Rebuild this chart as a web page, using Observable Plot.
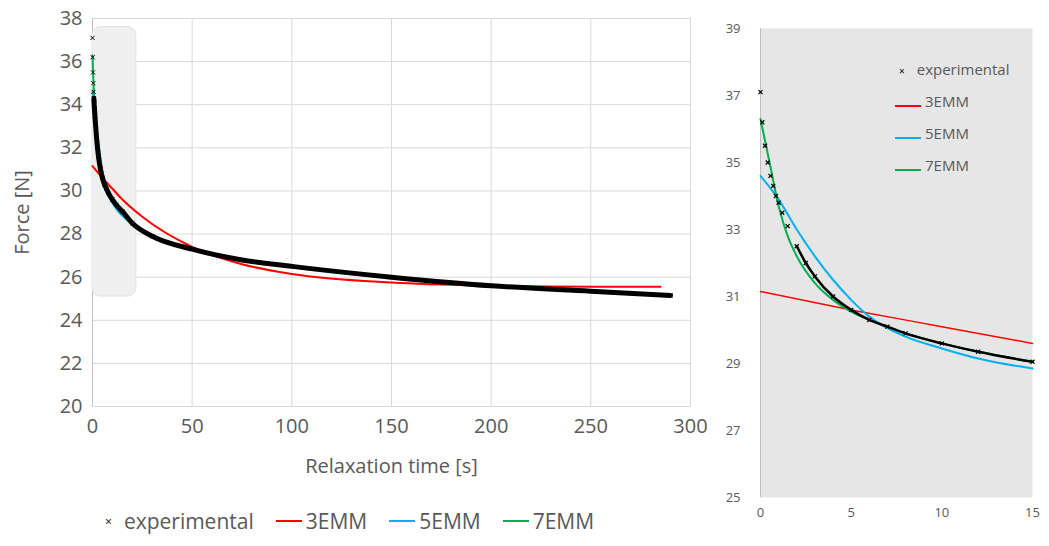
<!DOCTYPE html>
<html><head><meta charset="utf-8">
<script src="https://cdn.jsdelivr.net/npm/d3@7"></script>
<script src="https://cdn.jsdelivr.net/npm/@observablehq/plot@0.6"></script>
<style>
body{margin:0;width:1049px;height:546px;background:#fff;font-family:"Open Sans","Liberation Sans",Arial,sans-serif;position:relative;overflow:hidden}
#l{position:absolute;left:0;top:0}
#r{position:absolute;left:720px;top:0}
.leg{position:absolute;color:#595959;display:flex;align-items:center}
.sw{display:inline-block;width:26px;height:2px;margin-right:4px}
</style></head><body>
<div id="l"></div><div id="r"></div>
<div class="leg" style="left:105px;top:507px;font-size:21px;gap:0">
<span style="font-size:12px;margin-right:12px;color:#000">×</span>experimental
<span class="sw" style="background:#ff0000;margin-left:22px"></span>3EMM
<span class="sw" style="background:#00b0f0;margin-left:22px"></span>5EMM
<span class="sw" style="background:#00b050;margin-left:22px"></span>7EMM
</div>
<div class="leg" style="left:895px;top:59px;font-size:15px;flex-direction:column;align-items:flex-start;gap:12px">
<div><span style="font-size:10px;margin:0 12px 0 4px;color:#000">×</span>experimental</div>
<div><span class="sw" style="background:#ff0000"></span>3EMM</div>
<div><span class="sw" style="background:#00b0f0"></span>5EMM</div>
<div><span class="sw" style="background:#00b050"></span>7EMM</div>
</div>
<script>
const expT=[0,0.1,0.25,0.4,0.55,0.7,0.85,1,1.2,1.5,2,2.5,3,4,5,6,7,8,10,12,15,20,30,50,75,100,150,200,250,290];
const expF=[37.1,36.2,35.5,35.0,34.6,34.3,34.0,33.8,33.5,33.1,32.5,32.0,31.6,31.0,30.6,30.3,30.1,29.9,29.6,29.35,29.05,28.5,27.9,27.3,26.8,26.5,26.0,25.6,25.35,25.15];
const m3T=[0,5,10,15,25,50,75,100,150,200,250,285];
const m3F=[31.15,30.6,30.1,29.6,28.8,27.4,26.6,26.15,25.75,25.6,25.55,25.55];
const m5T=[0,1,2,3,4,5,6,8,10,12,15,20,50,100,150,200,250,285];
const m5F=[34.6,33.9,33.0,32.2,31.5,30.9,30.4,29.8,29.45,29.15,28.85,28.45,27.3,26.5,26.0,25.6,25.35,25.2];
const m7T=[0,0.5,1,1.5,2,3,4,5,6,8,10,15,20,50,100,200,285];
const m7F=[36.3,35.0,33.7,32.8,32.2,31.4,30.9,30.55,30.3,29.9,29.6,29.05,28.5,27.3,26.5,25.6,25.2];
const zoomBox={x1:0,x2:22,y1:25.1,y2:37.6};
const z=(t,f)=>t.map((v,i)=>({t:v,f:f[i]}));
const E=z(expT,expF),A=z(m3T,m3F),B=z(m5T,m5F),C=z(m7T,m7F);
const curve="monotone-x";
const ff="'Open Sans', 'Liberation Sans', Arial, sans-serif";
const left=Plot.plot({width:720,height:495,marginLeft:92,marginRight:30,marginTop:18,marginBottom:89,
 style:{fontFamily:ff,color:"#595959"},
 x:{domain:[0,300],ticks:d3.range(0,301,50),tickSize:0,tickPadding:12,label:"Relaxation time [s]",labelAnchor:"center",labelArrow:"none",labelOffset:66},
 y:{domain:[20,38],ticks:d3.range(20,39,2),tickSize:0,tickPadding:10,label:"Force [N]",labelAnchor:"center",labelArrow:"none",labelOffset:78},
 marks:[
  Plot.gridX(d3.range(50,301,50),{stroke:"#d9d9d9",strokeOpacity:1}),
  Plot.gridY(d3.range(20,39,2),{stroke:"#d9d9d9",strokeOpacity:1}),
  Plot.ruleX([0],{stroke:"#bfbfbf"}),
  Plot.rect([zoomBox],{x1:"x1",x2:"x2",y1:"y1",y2:"y2",fill:"#efefef",stroke:"#e3e3e3",rx:8}),
  Plot.line(A,{x:"t",y:"f",stroke:"#ff0000",strokeWidth:2,curve}),
  Plot.line(B,{x:"t",y:"f",stroke:"#00b0f0",strokeWidth:2,curve}),
  Plot.line(C,{x:"t",y:"f",stroke:"#00b050",strokeWidth:2,curve}),
  Plot.line(E.filter(d=>d.t>=0.7),{x:"t",y:"f",stroke:"#000",strokeWidth:5,curve}),
  Plot.dot(E,{x:"t",y:"f",symbol:"times",r:2,stroke:"#000",strokeWidth:1})
 ]});
left.querySelectorAll("text").forEach(t=>t.style.fontSize="20px");
document.getElementById("l").appendChild(left);
const ins=d=>d.filter(p=>p.t<=15);
const right=Plot.plot({width:329,height:546,marginLeft:40,marginRight:17,marginTop:28,marginBottom:49,
 style:{fontFamily:ff,color:"#595959"},
 x:{domain:[0,15],ticks:[0,5,10,15],tickSize:0,tickPadding:10,label:null},
 y:{domain:[25,39],ticks:d3.range(25,40,2),tickSize:0,tickPadding:20,label:null},
 marks:[
  Plot.frame({fill:"#e6e6e6",stroke:null}),
  Plot.ruleX([0],{stroke:"#bfbfbf"}),
  Plot.line(ins(A),{x:"t",y:"f",stroke:"#ff0000",strokeWidth:1.5,curve}),
  Plot.line(ins(B),{x:"t",y:"f",stroke:"#00b0f0",strokeWidth:2,curve}),
  Plot.line(ins(C),{x:"t",y:"f",stroke:"#00b050",strokeWidth:2,curve}),
  Plot.line(ins(E).filter(d=>d.t>=2),{x:"t",y:"f",stroke:"#000",strokeWidth:2.5,curve}),
  Plot.dot(ins(E),{x:"t",y:"f",symbol:"times",r:2,stroke:"#000",strokeWidth:1.2})
 ]});
right.querySelectorAll("text").forEach(t=>t.style.fontSize="13px");
document.getElementById("r").appendChild(right);
</script></body></html>
